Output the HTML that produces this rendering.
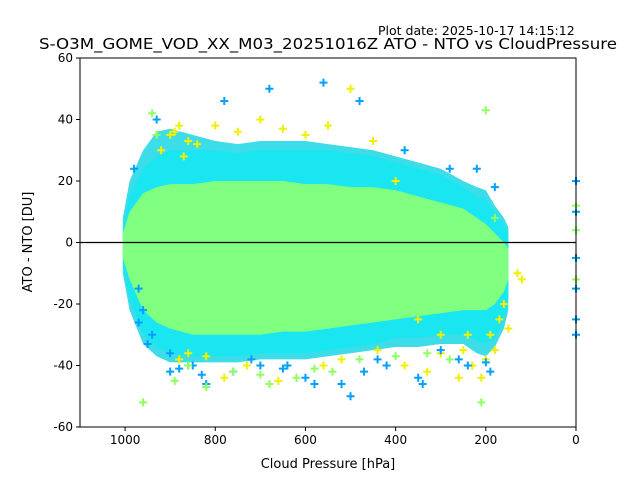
<!DOCTYPE html>
<html><head><meta charset="utf-8">
<style>
body{margin:0;background:#fff;font-family:"Liberation Sans","DejaVu Sans",sans-serif;}
svg{display:block}
</style></head>
<body>
<svg id="chart" width="640" height="480" xmlns="http://www.w3.org/2000/svg">
<text x="378" y="35" font-size="12.5" fill="#000" font-family="DejaVu Sans,sans-serif">Plot date: 2025-10-17 14:15:12</text>
<text x="328" y="49" font-size="15.5" text-anchor="middle" fill="#000" font-family="DejaVu Sans,sans-serif" textLength="578" lengthAdjust="spacingAndGlyphs">S-O3M_GOME_VOD_XX_M03_20251016Z ATO - NTO vs CloudPressure</text>
<g id="plot"></g>
<text x="328" y="468" font-size="13" text-anchor="middle" font-family="DejaVu Sans,sans-serif">Cloud Pressure [hPa]</text>
<text transform="translate(32,242) rotate(-90)" font-size="13" text-anchor="middle" font-family="DejaVu Sans,sans-serif">ATO - NTO [DU]</text>
</svg>
<script>
// data arrays
const pressureBins = [1005,990,960,930,900,850,800,750,700,650,600,550,500,450,400,350,300,250,220,200,180,160,150];
const fringeTop =    [8,20,30,36,37,35,33,32,33,33,33,32,31,30,28,26,24,20,18,17,12,8,5];
const fringeBottom = [-10,-22,-33,-37,-39,-39,-39,-39,-38,-38,-38,-37,-36,-35,-34,-34,-33,-33,-36,-37,-34,-28,-22];
const outerTop =     [5,15,24,28,30,30,30,29,30,30,30,30,29,28,26,24,22,18,15,14,10,6,3];
const outerBottom =  [-8,-18,-30,-34,-36,-37,-37,-37,-36,-36,-36,-35,-34,-33,-31,-31,-30,-30,-32,-33,-31,-25,-18];
const innerTop =     [3,10,16,18,19,19,20,20,20,20,19,19,18,18,17,15,13,11,8,6,3,0,-2];
const innerBottom =  [-5,-12,-22,-26,-28,-30,-30,-30,-30,-29,-29,-28,-27,-26,-25,-24,-23,-22,-22,-22,-20,-16,-12];
const yellowP = [900,880,860,920,890,870,840,800,750,700,650,600,550,500,450,400,350,300,250,230,210,200,190,180,170,160,150,130,120,880,860,820,780,730,660,560,520,440,380,330,300,260,240];
const yellowV = [35,38,33,30,36,28,32,38,36,40,37,35,38,50,33,20,-25,-30,-35,-40,-44,-38,-30,-35,-25,-20,-28,-10,-12,-38,-36,-37,-44,-40,-45,-40,-38,-35,-40,-42,-36,-44,-30];
const blueP = [980,970,950,930,900,880,860,820,780,720,680,640,600,560,500,480,420,380,340,300,280,260,240,220,200,190,180,970,960,940,900,850,830,760,700,650,580,520,470,440,350,0,0,0,0,0,0];
const blueV = [24,-26,-33,40,-42,-41,-40,-46,46,-38,50,-40,-44,52,-50,46,-40,30,-46,-35,24,-38,-40,24,-39,-42,18,-15,-22,-30,-36,-40,-43,-42,-40,-41,-46,-46,-42,-38,-44,20,10,-5,-15,-25,-30];
const greenP = [960,940,930,890,860,820,760,700,680,620,580,540,480,400,330,280,210,200,180,0,0,0];
const greenV = [-52,42,35,-45,-40,-47,-42,-43,-46,-44,-41,-42,-38,-37,-36,-38,-52,43,8,12,4,-12];

const x0=80,x1=576,y0=58,y1=427;
const X=p=>x1-(p/1100)*(x1-x0);
const Y=v=>y0+(60-v)/120*(y1-y0);
const NS="http://www.w3.org/2000/svg";
const g=document.getElementById('plot');
function mk(t,a){const e=document.createElementNS(NS,t);for(const k in a)e.setAttribute(k,a[k]);g.appendChild(e);return e;}

function band(top,bot,col,name){
  let pts=pressureBins.map((p,i)=>X(p)+','+Y(top[i]));
  pts=pts.concat(pressureBins.map((p,i)=>X(p)+','+Y(bot[i])).reverse());
  const e=mk('polygon',{points:pts.join(' '),fill:col});
  
  
}
band(fringeTop,fringeBottom,'#3cdce8','fringe-density-band');
band(outerTop,outerBottom,'#19e6f0','outer-density-band');
band(innerTop,innerBottom,'#80ff80','inner-density-band');

function plus(ps,vs,col,name){
  ps.forEach((p,i)=>{
    const cx=X(p),cy=Y(vs[i]);
    const e=mk('path',{d:`M${cx-4},${cy}H${cx+4}M${cx},${cy-4}V${cy+4}`,stroke:col,'stroke-width':2});
    
    
  });
}
plus(yellowP,yellowV,'#f0f000','point-yellow');
plus(blueP,blueV,'#00a0ff','point-blue');
plus(greenP,greenV,'#90ff60','point-green');

let z=mk('line',{x1:x0,x2:x1,y1:Y(0),y2:Y(0),stroke:'#000','stroke-width':1.2});



let f=mk('rect',{x:x0,y:y0,width:x1-x0,height:y1-y0,fill:'none',stroke:'#000','stroke-width':1});



const xTicks=[1000,800,600,400,200,0];
const yTicks=[60,40,20,0,-20,-40,-60];
xTicks.forEach(t=>{
  const l=mk('line',{x1:X(t),x2:X(t),y1:y1,y2:y1+4,stroke:'#000'});
  
  
  const s=mk('text',{x:X(t),y:y1+17,'font-size':12,'text-anchor':'middle','font-family':'DejaVu Sans,sans-serif'});
  s.textContent=t;
  
  
});
yTicks.forEach(t=>{
  const l=mk('line',{x1:x0-4,x2:x0,y1:Y(t),y2:Y(t),stroke:'#000'});
  
  
  const s=mk('text',{x:x0-7,y:Y(t)+4,'font-size':12,'text-anchor':'end','font-family':'DejaVu Sans,sans-serif'});
  s.textContent=t;
  
  
});
</script>
</body></html>
